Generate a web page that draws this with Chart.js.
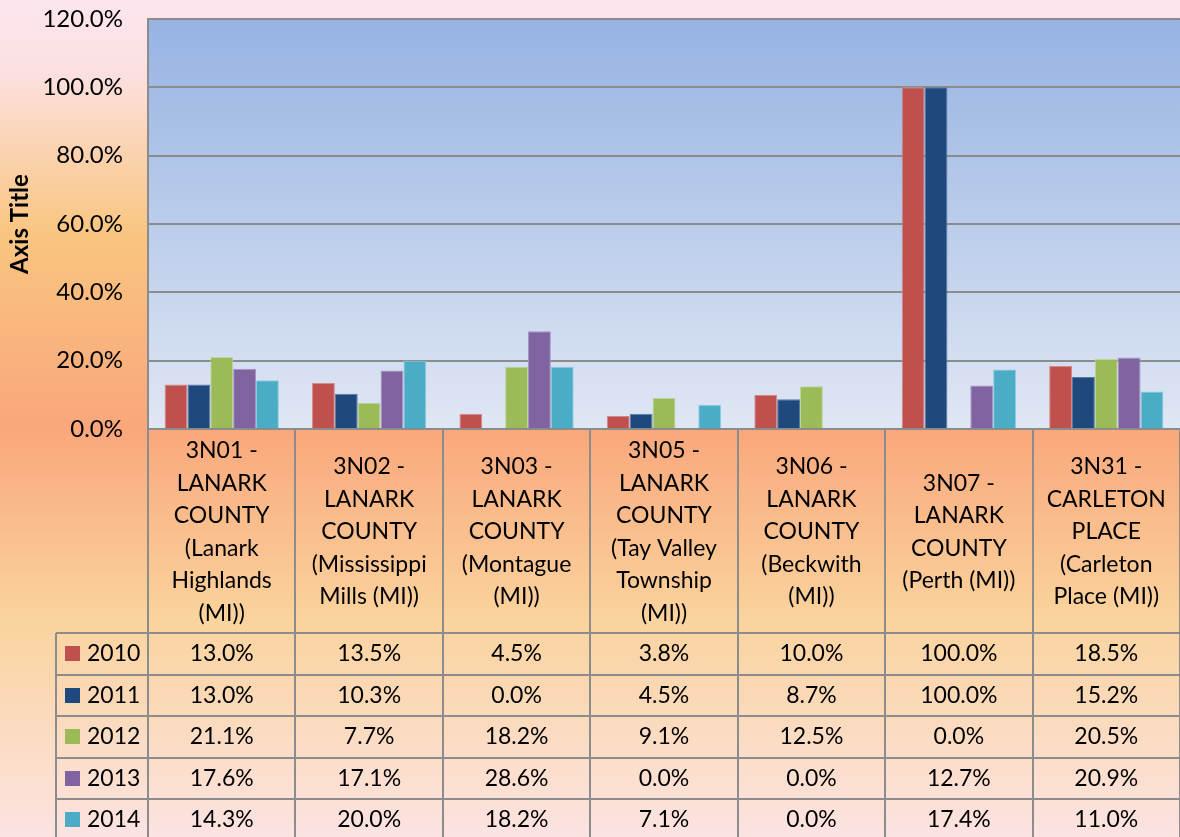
<!DOCTYPE html>
<html>
<head>
<meta charset="utf-8">
<script src="https://cdn.jsdelivr.net/npm/chart.js@4.4.1/dist/chart.umd.min.js"></script>
<style>
  html, body { margin: 0; padding: 0; background: #fff; }
  #wrap { width: 1180px; height: 837px; }
</style>
</head>
<body>
<div id="wrap"><canvas id="c" width="1180" height="837"></canvas></div>
<script>
// ---- data ----
const categories = [
  ["3N01 -", "LANARK", "COUNTY", "(Lanark", "Highlands", "(MI))"],
  ["3N02 -", "LANARK", "COUNTY", "(Mississippi", "Mills (MI))"],
  ["3N03 -", "LANARK", "COUNTY", "(Montague", "(MI))"],
  ["3N05 -", "LANARK", "COUNTY", "(Tay Valley", "Township", "(MI))"],
  ["3N06 -", "LANARK", "COUNTY", "(Beckwith", "(MI))"],
  ["3N07 -", "LANARK", "COUNTY", "(Perth (MI))"],
  ["3N31 -", "CARLETON", "PLACE", "(Carleton", "Place (MI))"]
];
const seriesNames = ["2010", "2011", "2012", "2013", "2014"];
const values2010 = [13.0, 13.5, 4.5, 3.8, 10.0, 100.0, 18.5];
const values2011 = [13.0, 10.3, 0.0, 4.5, 8.7, 100.0, 15.2];
const values2012 = [21.1, 7.7, 18.2, 9.1, 12.5, 0.0, 20.5];
const values2013 = [17.6, 17.1, 28.6, 0.0, 0.0, 12.7, 20.9];
const values2014 = [14.3, 20.0, 18.2, 7.1, 0.0, 17.4, 11.0];
const yTicks = ["0.0%", "20.0%", "40.0%", "60.0%", "80.0%", "100.0%", "120.0%"];
const yAxisTitle = "Axis Title";

const seriesValues = [values2010, values2011, values2012, values2013, values2014];
const seriesColors = ["#C0504D", "#1F497D", "#9BBB59", "#8064A2", "#4BACC6"];
const seriesBorders = ["#D68A88", "#5A7AA5", "#BCD39A", "#A794C0", "#8BCCDD"];

const FONT = "Lato, 'Open Sans', sans-serif";
const GRID = "#8C8C8C";
const HEADER_BOTTOM = 633;
const ROW_H = 41.5;
const LEGEND_LEFT = 56;
const PLOT_TOP = 19;

const bgPlugin = {
  id: 'bg',
  beforeDraw(chart) {
    const { ctx, chartArea: a, width, height } = chart;
    ctx.save();
    const g = ctx.createLinearGradient(0, 0, 0, height);
    g.addColorStop(0.00, '#FDE5EE');
    g.addColorStop(0.08, '#FCE1E2');
    g.addColorStop(0.28, '#F9C580');
    g.addColorStop(0.51, '#F9A77B');
    g.addColorStop(0.74, '#FAD39D');
    g.addColorStop(1.00, '#FCE3E2');
    ctx.fillStyle = g;
    ctx.fillRect(0, 0, width, height);
    const pg = ctx.createLinearGradient(0, a.top, 0, a.bottom);
    pg.addColorStop(0, '#96B3E2');
    pg.addColorStop(1, '#E0E7F4');
    ctx.fillStyle = pg;
    ctx.fillRect(a.left, a.top, a.right - a.left, a.bottom - a.top);
    ctx.restore();
  }
};

const tablePlugin = {
  id: 'table',
  afterDraw(chart) {
    const { ctx, chartArea: a, height } = chart;
    const xs = chart.scales.x;
    const n = categories.length;
    const colW = (a.right - a.left) / n;
    ctx.save();
    ctx.strokeStyle = GRID;
    ctx.lineWidth = 2;
    for (let i = 0; i <= n; i++) {
      const x = Math.round(a.left + i * colW);
      ctx.beginPath();
      ctx.moveTo(x, a.bottom);
      ctx.lineTo(x, height);
      ctx.stroke();
    }
    ctx.beginPath();
    ctx.moveTo(LEGEND_LEFT, HEADER_BOTTOM);
    ctx.lineTo(LEGEND_LEFT, height);
    ctx.stroke();
    for (let r = 0; r < seriesNames.length; r++) {
      const y = Math.round(HEADER_BOTTOM + r * ROW_H);
      ctx.beginPath();
      ctx.moveTo(LEGEND_LEFT, y);
      ctx.lineTo(a.right, y);
      ctx.stroke();
    }
    ctx.fillStyle = '#000';
    ctx.font = "23px " + FONT;
    ctx.textAlign = 'center';
    ctx.textBaseline = 'middle';
    const lh = 32.5;
    const hc = (a.bottom + HEADER_BOTTOM) / 2 + 1;
    for (let i = 0; i < n; i++) {
      const cx = xs.getPixelForValue(i);
      const lines = categories[i];
      const y0 = hc - (lines.length - 1) * lh / 2;
      lines.forEach((t, k) => ctx.fillText(t, cx, y0 + k * lh));
    }
    ctx.font = "23px " + FONT;
    for (let r = 0; r < seriesNames.length; r++) {
      const cy = HEADER_BOTTOM + r * ROW_H + ROW_H / 2;
      ctx.fillStyle = seriesColors[r];
      ctx.fillRect(65, Math.round(cy - 7.5), 15, 15);
      ctx.fillStyle = '#000';
      ctx.textAlign = 'left';
      ctx.fillText(seriesNames[r], 87, cy);
      ctx.textAlign = 'center';
      for (let i = 0; i < n; i++) {
        ctx.fillText(seriesValues[r][i].toFixed(1) + '%', xs.getPixelForValue(i), cy);
      }
    }
    ctx.restore();
  }
};

new Chart(document.getElementById('c'), {
  type: 'bar',
  data: {
    labels: categories.map(c => c.join(' ')),
    datasets: seriesNames.map((name, i) => ({
      label: name,
      data: seriesValues[i],
      backgroundColor: seriesColors[i],
      borderColor: seriesBorders[i],
      borderWidth: 1,
      categoryPercentage: 0.775,
      barPercentage: 1.0
    }))
  },
  options: {
    responsive: false,
    animation: false,
    events: [],
    layout: { padding: { top: 0, bottom: 408, left: 0, right: 0 } },
    plugins: { legend: { display: false }, tooltip: { enabled: false } },
    scales: {
      x: { display: false },
      y: {
        min: 0, max: 120,
        afterFit(scale) { scale.width = 148; scale.paddingTop = PLOT_TOP; },
        ticks: {
          stepSize: 20,
          padding: 25,
          color: '#000',
          font: { family: FONT, size: 24 },
          callback: (v) => yTicks[Math.round(v / 20)]
        },
        grid: { color: GRID, lineWidth: 2, drawTicks: false },
        border: { color: GRID, width: 2 },
        title: {
          display: true,
          text: yAxisTitle,
          color: '#000',
          font: { family: FONT, size: 24, weight: 'bold' },
          padding: { top: 6, bottom: 0 }
        }
      }
    }
  },
  plugins: [bgPlugin, tablePlugin]
});
</script>
</body>
</html>
